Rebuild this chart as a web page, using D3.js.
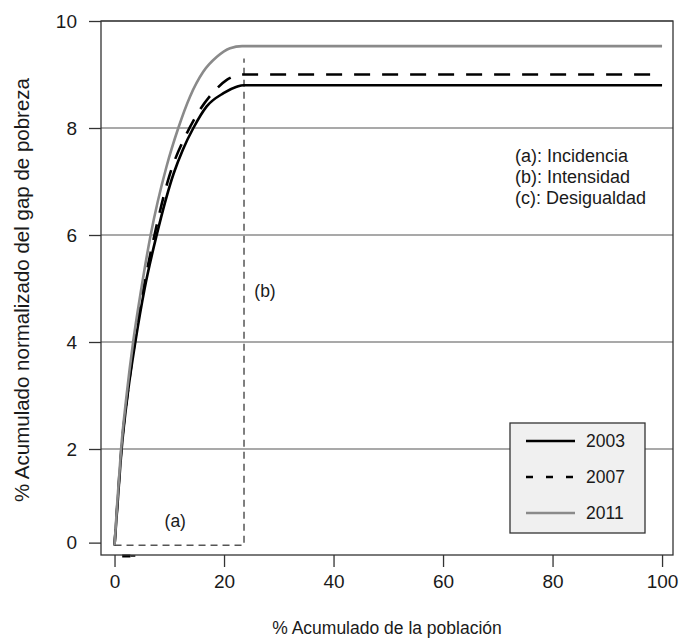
<!DOCTYPE html>
<html>
<head>
<meta charset="utf-8">
<script src="https://cdn.jsdelivr.net/npm/d3@7"></script>
<style>
  body { margin: 0; background: #fff; }
  text { font-family: "Liberation Sans", Arial, sans-serif; fill: #1a1a1a; }
</style>
</head>
<body>
<div id="chart"></div>
<script>
// data
var years = ["2003", "2007", "2011"];
var x2003 = [0, 0.5, 1.3, 2.5, 3.8, 5.5, 7.7, 10.8, 12.5, 14.4, 16.8, 19.9, 22.3, 23.6, 100];
var y2003 = [0.2, 0.9, 2.0, 3.1, 4.0, 5.0, 6.0, 7.15, 7.6, 8.0, 8.4, 8.65, 8.77, 8.8, 8.8];
var x2007 = [0, 0.5, 1.25, 2.4, 3.7, 5.3, 7.3, 10, 13.2, 15.6, 18.7, 20.5, 23.5, 100];
var y2007 = [0.2, 0.95, 2.0, 3.05, 4.0, 5.0, 6.0, 7.1, 7.9, 8.34, 8.74, 8.9, 9.0, 9.0];
var x2011 = [0, 0.5, 1.2, 2.2, 3.4, 4.9, 6.6, 9.5, 11.65, 13.8, 16.2, 18.7, 21.1, 23.3, 100];
var y2011 = [0.2, 1.0, 2.0, 3.0, 4.0, 5.0, 6.0, 7.28, 8.0, 8.59, 9.05, 9.33, 9.49, 9.53, 9.53];
var xTicks = [0, 20, 40, 60, 80, 100];
var yTicks = [0.25, 2, 4, 6, 8, 10];
var yTickLabels = ["0", "2", "4", "6", "8", "10"];
var gridLevels = [2, 4, 6, 8, 10];
var incidence = 23.65;       // (a) / (b) dashed box corner
var boxBase = 0.2;
var boxTop = 9.3;
var notes = ["(a): Incidencia", "(b): Intensidad", "(c): Desigualdad"];
var markX = [1.4, 2.9, 3.8];

var width = 682, height = 638;
var svg = d3.select('#chart').append('svg')
  .attr('width', width)
  .attr('height', height);

var x = d3.scaleLinear().domain([-2.47, 102]).range([101, 673]);
var y = d3.scaleLinear().domain([0, 10]).range([556, 21]);

// grid lines
svg.selectAll('.grid')
  .data(gridLevels).enter().append('line')
  .attr('class', 'grid')
  .attr('x1', x.range()[0]).attr('x2', x.range()[1])
  .attr('y1', function(d){ return y(d) })
  .attr('y2', function(d){ return y(d) })
  .attr('stroke', '#8c8c8c')
  .attr('stroke-width', 1.3);

// dashed (a)/(b) guide
svg.append('path')
  .attr('d', d3.line()([[x(0), y(boxBase)], [x(incidence), y(boxBase)], [x(incidence), y(boxTop)]]))
  .attr('fill', 'none')
  .attr('stroke', '#555')
  .attr('stroke-width', 1.5)
  .attr('stroke-dasharray', '7,5');

var series = [
  { name: years[0], xs: x2003, ys: y2003, color: '#000', dash: null },
  { name: years[1], xs: x2007, ys: y2007, color: '#000', dash: '16,12' },
  { name: years[2], xs: x2011, ys: y2011, color: '#8a8a8a', dash: null }
];

var line = d3.line()
  .x(function(d){ return x(d[0]) })
  .y(function(d){ return y(d[1]) })
  .curve(d3.curveMonotoneX);

svg.selectAll('.curve')
  .data(series).enter().append('path')
  .attr('class', 'curve')
  .attr('d', function(s){ return line(s.xs.map(function(v, i){ return [v, s.ys[i]] })) })
  .attr('fill', 'none')
  .attr('stroke', function(s){ return s.color })
  .attr('stroke-width', 2.6)
  .attr('stroke-dasharray', function(s){ return s.dash });

// little mark on the x axis
svg.append('line')
  .attr('x1', x(markX[0])).attr('x2', x(markX[1]))
  .attr('y1', y(0)).attr('y2', y(0))
  .attr('stroke', '#000').attr('stroke-width', 3);
svg.append('line')
  .attr('x1', x(markX[1])).attr('x2', x(markX[2]))
  .attr('y1', y(0)).attr('y2', y(0))
  .attr('stroke', '#000').attr('stroke-width', 1.5);

// box
svg.append('rect')
  .attr('x', x.range()[0]).attr('y', y.range()[1])
  .attr('width', x.range()[1] - x.range()[0])
  .attr('height', y.range()[0] - y.range()[1] - 1)
  .attr('fill', 'none')
  .attr('stroke', '#333')
  .attr('stroke-width', 1.3);

// axes
var xAxis = svg.append('g')
  .attr('transform', 'translate(0,555)')
  .call(d3.axisBottom(x).tickValues(xTicks).tickSize(12).tickPadding(8).tickFormat(d3.format('d')));
var yAxis = svg.append('g')
  .attr('transform', 'translate(101,0)')
  .call(d3.axisLeft(y).tickValues(yTicks).tickSize(12).tickPadding(12)
    .tickFormat(function(d, i){ return yTickLabels[i] }));
[xAxis, yAxis].forEach(function(g){
  g.select('.domain').remove();
  g.selectAll('line').attr('stroke', '#333').attr('stroke-width', 1.3);
  g.selectAll('text').attr('font-size', '19px').attr('fill', '#1a1a1a')
    .style('font-family', '"Liberation Sans", Arial, sans-serif');
});

// axis titles
svg.append('text')
  .attr('x', 387).attr('y', 634)
  .attr('text-anchor', 'middle')
  .attr('font-size', '17.5px')
  .text('% Acumulado de la población');
svg.append('text')
  .attr('transform', 'translate(29,290) rotate(-90)')
  .attr('text-anchor', 'middle')
  .attr('font-size', '20.5px')
  .text('% Acumulado normalizado del gap de pobreza');

// annotations
svg.append('text')
  .attr('x', x(incidence / 2) - 4).attr('y', y(0.55))
  .attr('text-anchor', 'middle').attr('font-size', '17.5px')
  .text('(a)');
svg.append('text')
  .attr('x', x(incidence) + 21).attr('y', y(4.85))
  .attr('text-anchor', 'middle').attr('font-size', '17.5px')
  .text('(b)');
svg.selectAll('.note')
  .data(notes).enter().append('text')
  .attr('class', 'note')
  .attr('x', 515)
  .attr('y', function(d, i){ return 162 + i * 21 })
  .attr('font-size', '18px')
  .text(function(d){ return d });

// legend
var legend = svg.append('g').attr('transform', 'translate(510,423)');
legend.append('rect')
  .attr('x', 0).attr('y', 0)
  .attr('width', 135).attr('height', 110)
  .attr('fill', '#f0f0f0')
  .attr('stroke', '#333')
  .attr('stroke-width', 1.3);
var entries = legend.selectAll('.entry')
  .data(series).enter().append('g')
  .attr('class', 'entry')
  .attr('transform', function(d, i){ return 'translate(0,' + (18 + i * 36) + ')' });
entries.append('line')
  .attr('x1', 16).attr('x2', 65)
  .attr('stroke', function(d){ return d.color })
  .attr('stroke-width', 2.6)
  .attr('stroke-dasharray', function(d){ return d.dash ? '7,13' : null });
entries.append('text')
  .attr('x', 76).attr('y', 6)
  .attr('font-size', '17.5px')
  .text(function(d){ return d.name });
</script>
</body>
</html>
